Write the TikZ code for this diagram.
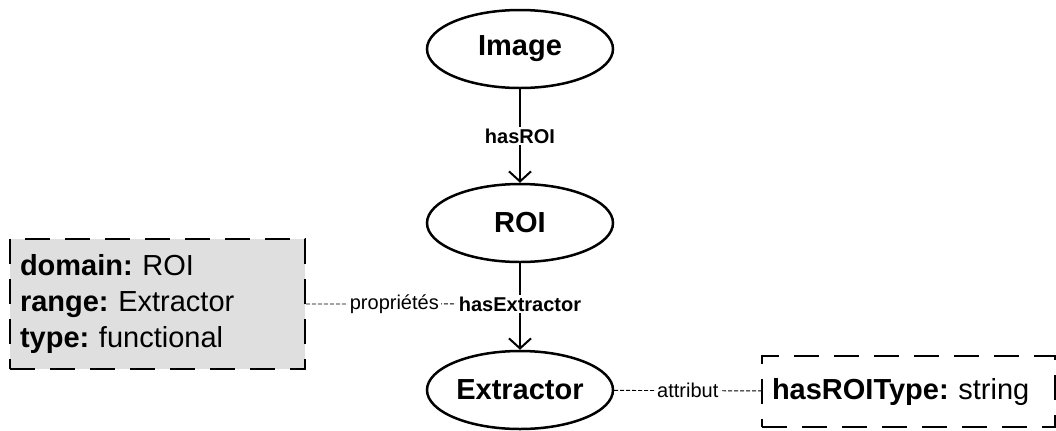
\documentclass[tikz,border=0pt]{standalone}
\usepackage{fontspec}
\setmainfont{Liberation Sans}
\usetikzlibrary{shapes, positioning, arrows.meta, calc}
\frenchspacing

\begin{document}
\begin{tikzpicture}[x=0.5pt, y=-0.5pt,
    klasse/.style={draw, ellipse, line width=1.25pt, minimum width=93pt, minimum height=39pt, inner sep=0pt, font=\fontsize{14.5}{17}\selectfont\bfseries},
    kasten/.style={draw, line width=0.75pt, dash pattern=on 12.5pt off 7.5pt, inner sep=5pt, align=left, font=\fontsize{14.5}{18}\selectfont},
    lbl/.style={fill=white, inner sep=1pt, font=\fontsize{10}{12}\selectfont},
    verb/.style={line width=0.45pt, dash pattern=on 2pt off 1pt},
    >={Straight Barb[length=5pt, width=11pt, line width=1pt]}]

\useasboundingbox (0,0) rectangle (1056,430);

% Klassen
\node[klasse] (Img) at (520,49) {Image};
\node[klasse] (ROI) at (520,223) {ROI};
\node[klasse] (Ext) at (520,390) {Extractor};

% Pfeile
\draw[->, line width=1pt] (Img) -- node[lbl, font=\fontsize{10}{12}\selectfont\bfseries] (hasROI) {hasROI} (ROI);
\draw[->, line width=1pt] (ROI) -- node[lbl, pos=0.47, font=\fontsize{10}{12}\selectfont\bfseries] (hasExt) {hasExtractor} (Ext);

% Kaesten
\node[kasten, fill=gray!25, text width=137.5pt, minimum height=65pt] (Eig) at (157.5,304)
    {\textbf{domain:} ROI\\ \textbf{range:} Extractor\\ \textbf{type:} functional};
\node[kasten, text width=136.5pt, minimum height=35.5pt] (Att) at (908.5,391.5)
    {\textbf{hasROIType:} string};

% Verbindungen
\draw[verb] (Eig) -- node[lbl, pos=0.59] {propriétés} (hasExt);
\draw[verb] (Ext) -- node[lbl] {attribut} (Att);

\end{tikzpicture}
\end{document}
